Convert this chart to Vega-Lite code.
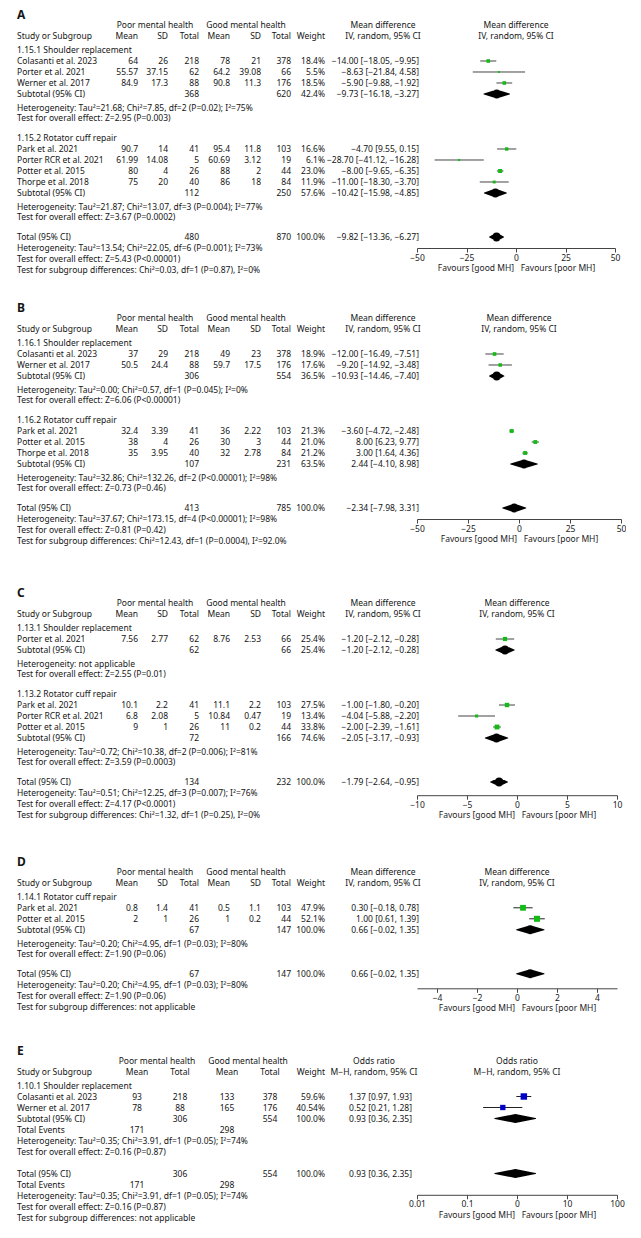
{
"$schema":"https://vega.github.io/schema/vega-lite/v6.json",
"padding":0,
"background":"white",
"columns":2,
"spacing":0,
"bounds":"flush",
"config":{
 "view":{"stroke":null},
 "text":{"font":"Noto Sans","fontSize":8.5,"color":"#151515"},
 "axis":{"labelFont":"Noto Sans","labelFontSize":8.5,"labelColor":"#222","titleFont":"Noto Sans","titleFontSize":8.5,"titleFontWeight":"normal","titleColor":"#222","domainColor":"#444","tickColor":"#444","tickSize":4,"labelPadding":1,"titlePadding":2,"grid":false,"labelFlush":false,"labelOverlap":false}
},
"datasets":{
"tA":[
{"line":-1,"col":0,"g":"p","text":"A"},
{"line":0,"col":9,"g":"h","text":"Poor mental health"},
{"line":0,"col":10,"g":"h","text":"Good mental health"},
{"line":0,"col":11,"g":"h","text":"Mean difference"},
{"line":1,"col":0,"g":"h","text":"Study or Subgroup"},
{"line":1,"col":1,"g":"h","text":"Mean"},
{"line":1,"col":2,"g":"h","text":"SD"},
{"line":1,"col":3,"g":"h","text":"Total"},
{"line":1,"col":4,"g":"h","text":"Mean"},
{"line":1,"col":5,"g":"h","text":"SD"},
{"line":1,"col":6,"g":"h","text":"Total"},
{"line":1,"col":7,"g":"h","text":"Weight"},
{"line":1,"col":11,"g":"h","text":"IV, random, 95% CI"},
{"line":2,"col":0,"g":"r","text":"1.15.1 Shoulder replacement"},
{"line":3,"col":0,"g":"r","text":"Colasanti et al. 2023"},
{"line":3,"col":1,"g":"r","text":"64"},
{"line":3,"col":2,"g":"r","text":"26"},
{"line":3,"col":3,"g":"r","text":"218"},
{"line":3,"col":4,"g":"r","text":"78"},
{"line":3,"col":5,"g":"r","text":"21"},
{"line":3,"col":6,"g":"r","text":"378"},
{"line":3,"col":7,"g":"r","text":"18.4%"},
{"line":3,"col":8,"g":"r","text":"−14.00 [−18.05, −9.95]"},
{"line":4,"col":0,"g":"r","text":"Porter et al. 2021"},
{"line":4,"col":1,"g":"r","text":"55.57"},
{"line":4,"col":2,"g":"r","text":"37.15"},
{"line":4,"col":3,"g":"r","text":"62"},
{"line":4,"col":4,"g":"r","text":"64.2"},
{"line":4,"col":5,"g":"r","text":"39.08"},
{"line":4,"col":6,"g":"r","text":"66"},
{"line":4,"col":7,"g":"r","text":"5.5%"},
{"line":4,"col":8,"g":"r","text":"−8.63 [−21.84, 4.58]"},
{"line":5,"col":0,"g":"r","text":"Werner et al. 2017"},
{"line":5,"col":1,"g":"r","text":"84.9"},
{"line":5,"col":2,"g":"r","text":"17.3"},
{"line":5,"col":3,"g":"r","text":"88"},
{"line":5,"col":4,"g":"r","text":"90.8"},
{"line":5,"col":5,"g":"r","text":"11.3"},
{"line":5,"col":6,"g":"r","text":"176"},
{"line":5,"col":7,"g":"r","text":"18.5%"},
{"line":5,"col":8,"g":"r","text":"−5.90 [−9.88, −1.92]"},
{"line":6,"col":0,"g":"r","text":"Subtotal (95% CI)"},
{"line":6,"col":3,"g":"r","text":"368"},
{"line":6,"col":6,"g":"r","text":"620"},
{"line":6,"col":7,"g":"r","text":"42.4%"},
{"line":6,"col":8,"g":"r","text":"−9.73 [−16.18, −3.27]"},
{"line":7,"col":0,"g":"n1","text":"Heterogeneity: Tau²=21.68; Chi²=7.85, df=2 (P=0.02); I²=75%"},
{"line":8,"col":0,"g":"n2","text":"Test for overall effect: Z=2.95 (P=0.003)"},
{"line":10,"col":0,"g":"r","text":"1.15.2 Rotator cuff repair"},
{"line":11,"col":0,"g":"r","text":"Park et al. 2021"},
{"line":11,"col":1,"g":"r","text":"90.7"},
{"line":11,"col":2,"g":"r","text":"14"},
{"line":11,"col":3,"g":"r","text":"41"},
{"line":11,"col":4,"g":"r","text":"95.4"},
{"line":11,"col":5,"g":"r","text":"11.8"},
{"line":11,"col":6,"g":"r","text":"103"},
{"line":11,"col":7,"g":"r","text":"16.6%"},
{"line":11,"col":8,"g":"r","text":"−4.70 [9.55, 0.15]"},
{"line":12,"col":0,"g":"r","text":"Porter RCR et al. 2021"},
{"line":12,"col":1,"g":"r","text":"61.99"},
{"line":12,"col":2,"g":"r","text":"14.08"},
{"line":12,"col":3,"g":"r","text":"5"},
{"line":12,"col":4,"g":"r","text":"60.69"},
{"line":12,"col":5,"g":"r","text":"3.12"},
{"line":12,"col":6,"g":"r","text":"19"},
{"line":12,"col":7,"g":"r","text":"6.1%"},
{"line":12,"col":8,"g":"r","text":"−28.70 [−41.12, −16.28]"},
{"line":13,"col":0,"g":"r","text":"Potter et al. 2015"},
{"line":13,"col":1,"g":"r","text":"80"},
{"line":13,"col":2,"g":"r","text":"4"},
{"line":13,"col":3,"g":"r","text":"26"},
{"line":13,"col":4,"g":"r","text":"88"},
{"line":13,"col":5,"g":"r","text":"2"},
{"line":13,"col":6,"g":"r","text":"44"},
{"line":13,"col":7,"g":"r","text":"23.0%"},
{"line":13,"col":8,"g":"r","text":"−8.00 [−9.65, −6.35]"},
{"line":14,"col":0,"g":"r","text":"Thorpe et al. 2018"},
{"line":14,"col":1,"g":"r","text":"75"},
{"line":14,"col":2,"g":"r","text":"20"},
{"line":14,"col":3,"g":"r","text":"40"},
{"line":14,"col":4,"g":"r","text":"86"},
{"line":14,"col":5,"g":"r","text":"18"},
{"line":14,"col":6,"g":"r","text":"84"},
{"line":14,"col":7,"g":"r","text":"11.9%"},
{"line":14,"col":8,"g":"r","text":"−11.00 [−18.30, −3.70]"},
{"line":15,"col":0,"g":"r","text":"Subtotal (95% CI)"},
{"line":15,"col":3,"g":"r","text":"112"},
{"line":15,"col":6,"g":"r","text":"250"},
{"line":15,"col":7,"g":"r","text":"57.6%"},
{"line":15,"col":8,"g":"r","text":"−10.42 [−15.98, −4.85]"},
{"line":16,"col":0,"g":"n1","text":"Heterogeneity: Tau²=21.87; Chi²=13.07, df=3 (P=0.004); I²=77%"},
{"line":17,"col":0,"g":"n2","text":"Test for overall effect: Z=3.67 (P=0.0002)"},
{"line":19,"col":0,"g":"r","text":"Total (95% CI)"},
{"line":19,"col":3,"g":"r","text":"480"},
{"line":19,"col":6,"g":"r","text":"870"},
{"line":19,"col":7,"g":"r","text":"100.0%"},
{"line":19,"col":8,"g":"r","text":"−9.82 [−13.36, −6.27]"},
{"line":20,"col":0,"g":"r","text":"Heterogeneity: Tau²=13.54; Chi²=22.05, df=6 (P=0.001); I²=73%"},
{"line":21,"col":0,"g":"r","text":"Test for overall effect: Z=5.43 (P<0.00001)"},
{"line":22,"col":0,"g":"r","text":"Test for subgroup differences: Chi²=0.03, df=1 (P=0.87), I²=0%"}
],
"fA":[
{"line":3,"kind":"s","md":-14.00,"lo":-18.05,"hi":-9.95,"weight":18.4},
{"line":4,"kind":"s","md":-8.63,"lo":-21.84,"hi":4.58,"weight":5.5},
{"line":5,"kind":"s","md":-5.90,"lo":-9.88,"hi":-1.92,"weight":18.5},
{"line":6,"kind":"d","md":-9.73,"lo":-16.18,"hi":-3.27},
{"line":11,"kind":"s","md":-4.70,"lo":-9.55,"hi":0.15,"weight":16.6},
{"line":12,"kind":"s","md":-28.70,"lo":-41.12,"hi":-16.28,"weight":6.1},
{"line":13,"kind":"s","md":-8.00,"lo":-9.65,"hi":-6.35,"weight":23.0},
{"line":14,"kind":"s","md":-11.00,"lo":-18.30,"hi":-3.70,"weight":11.9},
{"line":15,"kind":"d","md":-10.42,"lo":-15.98,"hi":-4.85},
{"line":19,"kind":"d","md":-9.82,"lo":-13.36,"hi":-6.27}
],
"tB":[
{"line":-1,"col":0,"g":"p","text":"B"},
{"line":0,"col":9,"g":"h","text":"Poor mental health"},
{"line":0,"col":10,"g":"h","text":"Good mental health"},
{"line":0,"col":11,"g":"h","text":"Mean difference"},
{"line":1,"col":0,"g":"h","text":"Study or Subgroup"},
{"line":1,"col":1,"g":"h","text":"Mean"},
{"line":1,"col":2,"g":"h","text":"SD"},
{"line":1,"col":3,"g":"h","text":"Total"},
{"line":1,"col":4,"g":"h","text":"Mean"},
{"line":1,"col":5,"g":"h","text":"SD"},
{"line":1,"col":6,"g":"h","text":"Total"},
{"line":1,"col":7,"g":"h","text":"Weight"},
{"line":1,"col":11,"g":"h","text":"IV, random, 95% CI"},
{"line":2,"col":0,"g":"r","text":"1.16.1 Shoulder replacement"},
{"line":3,"col":0,"g":"r","text":"Colasanti et al. 2023"},
{"line":3,"col":1,"g":"r","text":"37"},
{"line":3,"col":2,"g":"r","text":"29"},
{"line":3,"col":3,"g":"r","text":"218"},
{"line":3,"col":4,"g":"r","text":"49"},
{"line":3,"col":5,"g":"r","text":"23"},
{"line":3,"col":6,"g":"r","text":"378"},
{"line":3,"col":7,"g":"r","text":"18.9%"},
{"line":3,"col":8,"g":"r","text":"−12.00 [−16.49, −7.51]"},
{"line":4,"col":0,"g":"r","text":"Werner et al. 2017"},
{"line":4,"col":1,"g":"r","text":"50.5"},
{"line":4,"col":2,"g":"r","text":"24.4"},
{"line":4,"col":3,"g":"r","text":"88"},
{"line":4,"col":4,"g":"r","text":"59.7"},
{"line":4,"col":5,"g":"r","text":"17.5"},
{"line":4,"col":6,"g":"r","text":"176"},
{"line":4,"col":7,"g":"r","text":"17.6%"},
{"line":4,"col":8,"g":"r","text":"−9.20 [−14.92, −3.48]"},
{"line":5,"col":0,"g":"r","text":"Subtotal (95% CI)"},
{"line":5,"col":3,"g":"r","text":"306"},
{"line":5,"col":6,"g":"r","text":"554"},
{"line":5,"col":7,"g":"r","text":"36.5%"},
{"line":5,"col":8,"g":"r","text":"−10.93 [−14.46, −7.40]"},
{"line":6,"col":0,"g":"n1","text":"Heterogeneity: Tau²=0.00; Chi²=0.57, df=1 (P=0.045); I²=0%"},
{"line":7,"col":0,"g":"n2","text":"Test for overall effect: Z=6.06 (P<0.00001)"},
{"line":9,"col":0,"g":"r","text":"1.16.2 Rotator cuff repair"},
{"line":10,"col":0,"g":"r","text":"Park et al. 2021"},
{"line":10,"col":1,"g":"r","text":"32.4"},
{"line":10,"col":2,"g":"r","text":"3.39"},
{"line":10,"col":3,"g":"r","text":"41"},
{"line":10,"col":4,"g":"r","text":"36"},
{"line":10,"col":5,"g":"r","text":"2.22"},
{"line":10,"col":6,"g":"r","text":"103"},
{"line":10,"col":7,"g":"r","text":"21.3%"},
{"line":10,"col":8,"g":"r","text":"−3.60 [−4.72, −2.48]"},
{"line":11,"col":0,"g":"r","text":"Potter et al. 2015"},
{"line":11,"col":1,"g":"r","text":"38"},
{"line":11,"col":2,"g":"r","text":"4"},
{"line":11,"col":3,"g":"r","text":"26"},
{"line":11,"col":4,"g":"r","text":"30"},
{"line":11,"col":5,"g":"r","text":"3"},
{"line":11,"col":6,"g":"r","text":"44"},
{"line":11,"col":7,"g":"r","text":"21.0%"},
{"line":11,"col":8,"g":"r","text":"8.00 [6.23, 9.77]"},
{"line":12,"col":0,"g":"r","text":"Thorpe et al. 2018"},
{"line":12,"col":1,"g":"r","text":"35"},
{"line":12,"col":2,"g":"r","text":"3.95"},
{"line":12,"col":3,"g":"r","text":"40"},
{"line":12,"col":4,"g":"r","text":"32"},
{"line":12,"col":5,"g":"r","text":"2.78"},
{"line":12,"col":6,"g":"r","text":"84"},
{"line":12,"col":7,"g":"r","text":"21.2%"},
{"line":12,"col":8,"g":"r","text":"3.00 [1.64, 4.36]"},
{"line":13,"col":0,"g":"r","text":"Subtotal (95% CI)"},
{"line":13,"col":3,"g":"r","text":"107"},
{"line":13,"col":6,"g":"r","text":"231"},
{"line":13,"col":7,"g":"r","text":"63.5%"},
{"line":13,"col":8,"g":"r","text":"2.44 [−4.10, 8.98]"},
{"line":14,"col":0,"g":"n1","text":"Heterogeneity: Tau²=32.86; Chi²=132.26, df=2 (P<0.00001); I²=98%"},
{"line":15,"col":0,"g":"n2","text":"Test for overall effect: Z=0.73 (P=0.46)"},
{"line":17,"col":0,"g":"r","text":"Total (95% CI)"},
{"line":17,"col":3,"g":"r","text":"413"},
{"line":17,"col":6,"g":"r","text":"785"},
{"line":17,"col":7,"g":"r","text":"100.0%"},
{"line":17,"col":8,"g":"r","text":"−2.34 [−7.98, 3.31]"},
{"line":18,"col":0,"g":"r","text":"Heterogeneity: Tau²=37.67; Chi²=173.15, df=4 (P<0.00001); I²=98%"},
{"line":19,"col":0,"g":"r","text":"Test for overall effect: Z=0.81 (P=0.42)"},
{"line":20,"col":0,"g":"r","text":"Test for subgroup differences: Chi²=12.43, df=1 (P=0.0004), I²=92.0%"}
],
"fB":[
{"line":3,"kind":"s","md":-12.00,"lo":-16.49,"hi":-7.51,"weight":18.9},
{"line":4,"kind":"s","md":-9.20,"lo":-14.92,"hi":-3.48,"weight":17.6},
{"line":5,"kind":"d","md":-10.93,"lo":-14.46,"hi":-7.40},
{"line":10,"kind":"s","md":-3.60,"lo":-4.72,"hi":-2.48,"weight":21.3},
{"line":11,"kind":"s","md":8.00,"lo":6.23,"hi":9.77,"weight":21.0},
{"line":12,"kind":"s","md":3.00,"lo":1.64,"hi":4.36,"weight":21.2},
{"line":13,"kind":"d","md":2.44,"lo":-4.10,"hi":8.98},
{"line":17,"kind":"d","md":-2.34,"lo":-7.98,"hi":3.31}
],
"tC":[
{"line":-1,"col":0,"g":"p","text":"C"},
{"line":0,"col":9,"g":"h","text":"Poor mental health"},
{"line":0,"col":10,"g":"h","text":"Good mental health"},
{"line":0,"col":11,"g":"h","text":"Mean difference"},
{"line":1,"col":0,"g":"h","text":"Study or Subgroup"},
{"line":1,"col":1,"g":"h","text":"Mean"},
{"line":1,"col":2,"g":"h","text":"SD"},
{"line":1,"col":3,"g":"h","text":"Total"},
{"line":1,"col":4,"g":"h","text":"Mean"},
{"line":1,"col":5,"g":"h","text":"SD"},
{"line":1,"col":6,"g":"h","text":"Total"},
{"line":1,"col":7,"g":"h","text":"Weight"},
{"line":1,"col":11,"g":"h","text":"IV, random, 95% CI"},
{"line":2,"col":0,"g":"r","text":"1.13.1 Shoulder replacement"},
{"line":3,"col":0,"g":"r","text":"Porter et al. 2021"},
{"line":3,"col":1,"g":"r","text":"7.56"},
{"line":3,"col":2,"g":"r","text":"2.77"},
{"line":3,"col":3,"g":"r","text":"62"},
{"line":3,"col":4,"g":"r","text":"8.76"},
{"line":3,"col":5,"g":"r","text":"2.53"},
{"line":3,"col":6,"g":"r","text":"66"},
{"line":3,"col":7,"g":"r","text":"25.4%"},
{"line":3,"col":8,"g":"r","text":"−1.20 [−2.12, −0.28]"},
{"line":4,"col":0,"g":"r","text":"Subtotal (95% CI)"},
{"line":4,"col":3,"g":"r","text":"62"},
{"line":4,"col":6,"g":"r","text":"66"},
{"line":4,"col":7,"g":"r","text":"25.4%"},
{"line":4,"col":8,"g":"r","text":"−1.20 [−2.12, −0.28]"},
{"line":5,"col":0,"g":"n1","text":"Heterogeneity: not applicable"},
{"line":6,"col":0,"g":"n2","text":"Test for overall effect: Z=2.55 (P=0.01)"},
{"line":8,"col":0,"g":"r","text":"1.13.2 Rotator cuff repair"},
{"line":9,"col":0,"g":"r","text":"Park et al. 2021"},
{"line":9,"col":1,"g":"r","text":"10.1"},
{"line":9,"col":2,"g":"r","text":"2.2"},
{"line":9,"col":3,"g":"r","text":"41"},
{"line":9,"col":4,"g":"r","text":"11.1"},
{"line":9,"col":5,"g":"r","text":"2.2"},
{"line":9,"col":6,"g":"r","text":"103"},
{"line":9,"col":7,"g":"r","text":"27.5%"},
{"line":9,"col":8,"g":"r","text":"−1.00 [−1.80, −0.20]"},
{"line":10,"col":0,"g":"r","text":"Porter RCR et al. 2021"},
{"line":10,"col":1,"g":"r","text":"6.8"},
{"line":10,"col":2,"g":"r","text":"2.08"},
{"line":10,"col":3,"g":"r","text":"5"},
{"line":10,"col":4,"g":"r","text":"10.84"},
{"line":10,"col":5,"g":"r","text":"0.47"},
{"line":10,"col":6,"g":"r","text":"19"},
{"line":10,"col":7,"g":"r","text":"13.4%"},
{"line":10,"col":8,"g":"r","text":"−4.04 [−5.88, −2.20]"},
{"line":11,"col":0,"g":"r","text":"Potter et al. 2015"},
{"line":11,"col":1,"g":"r","text":"9"},
{"line":11,"col":2,"g":"r","text":"1"},
{"line":11,"col":3,"g":"r","text":"26"},
{"line":11,"col":4,"g":"r","text":"11"},
{"line":11,"col":5,"g":"r","text":"0.2"},
{"line":11,"col":6,"g":"r","text":"44"},
{"line":11,"col":7,"g":"r","text":"33.8%"},
{"line":11,"col":8,"g":"r","text":"−2.00 [−2.39, −1.61]"},
{"line":12,"col":0,"g":"r","text":"Subtotal (95% CI)"},
{"line":12,"col":3,"g":"r","text":"72"},
{"line":12,"col":6,"g":"r","text":"166"},
{"line":12,"col":7,"g":"r","text":"74.6%"},
{"line":12,"col":8,"g":"r","text":"−2.05 [−3.17, −0.93]"},
{"line":13,"col":0,"g":"n1","text":"Heterogeneity: Tau²=0.72; Chi²=10.38, df=2 (P=0.006); I²=81%"},
{"line":14,"col":0,"g":"n2","text":"Test for overall effect: Z=3.59 (P=0.0003)"},
{"line":16,"col":0,"g":"r","text":"Total (95% CI)"},
{"line":16,"col":3,"g":"r","text":"134"},
{"line":16,"col":6,"g":"r","text":"232"},
{"line":16,"col":7,"g":"r","text":"100.0%"},
{"line":16,"col":8,"g":"r","text":"−1.79 [−2.64, −0.95]"},
{"line":17,"col":0,"g":"r","text":"Heterogeneity: Tau²=0.51; Chi²=12.25, df=3 (P=0.007); I²=76%"},
{"line":18,"col":0,"g":"r","text":"Test for overall effect: Z=4.17 (P<0.0001)"},
{"line":19,"col":0,"g":"r","text":"Test for subgroup differences: Chi²=1.32, df=1 (P=0.25), I²=0%"}
],
"fC":[
{"line":3,"kind":"s","md":-1.20,"lo":-2.12,"hi":-0.28,"weight":25.4},
{"line":4,"kind":"d","md":-1.20,"lo":-2.12,"hi":-0.28},
{"line":9,"kind":"s","md":-1.00,"lo":-1.80,"hi":-0.20,"weight":27.5},
{"line":10,"kind":"s","md":-4.04,"lo":-5.88,"hi":-2.20,"weight":13.4},
{"line":11,"kind":"s","md":-2.00,"lo":-2.39,"hi":-1.61,"weight":33.8},
{"line":12,"kind":"d","md":-2.05,"lo":-3.17,"hi":-0.93},
{"line":16,"kind":"d","md":-1.79,"lo":-2.64,"hi":-0.95}
],
"tD":[
{"line":-1,"col":0,"g":"p","text":"D"},
{"line":0,"col":9,"g":"h","text":"Poor mental health"},
{"line":0,"col":10,"g":"h","text":"Good mental health"},
{"line":0,"col":11,"g":"h","text":"Mean difference"},
{"line":1,"col":0,"g":"h","text":"Study or Subgroup"},
{"line":1,"col":1,"g":"h","text":"Mean"},
{"line":1,"col":2,"g":"h","text":"SD"},
{"line":1,"col":3,"g":"h","text":"Total"},
{"line":1,"col":4,"g":"h","text":"Mean"},
{"line":1,"col":5,"g":"h","text":"SD"},
{"line":1,"col":6,"g":"h","text":"Total"},
{"line":1,"col":7,"g":"h","text":"Weight"},
{"line":1,"col":11,"g":"h","text":"IV, random, 95% CI"},
{"line":2,"col":0,"g":"r","text":"1.14.1 Rotator cuff repair"},
{"line":3,"col":0,"g":"r","text":"Park et al. 2021"},
{"line":3,"col":1,"g":"r","text":"0.8"},
{"line":3,"col":2,"g":"r","text":"1.4"},
{"line":3,"col":3,"g":"r","text":"41"},
{"line":3,"col":4,"g":"r","text":"0.5"},
{"line":3,"col":5,"g":"r","text":"1.1"},
{"line":3,"col":6,"g":"r","text":"103"},
{"line":3,"col":7,"g":"r","text":"47.9%"},
{"line":3,"col":8,"g":"r","text":"0.30 [−0.18, 0.78]"},
{"line":4,"col":0,"g":"r","text":"Potter et al. 2015"},
{"line":4,"col":1,"g":"r","text":"2"},
{"line":4,"col":2,"g":"r","text":"1"},
{"line":4,"col":3,"g":"r","text":"26"},
{"line":4,"col":4,"g":"r","text":"1"},
{"line":4,"col":5,"g":"r","text":"0.2"},
{"line":4,"col":6,"g":"r","text":"44"},
{"line":4,"col":7,"g":"r","text":"52.1%"},
{"line":4,"col":8,"g":"r","text":"1.00 [0.61, 1.39]"},
{"line":5,"col":0,"g":"r","text":"Subtotal (95% CI)"},
{"line":5,"col":3,"g":"r","text":"67"},
{"line":5,"col":6,"g":"r","text":"147"},
{"line":5,"col":7,"g":"r","text":"100.0%"},
{"line":5,"col":8,"g":"r","text":"0.66 [−0.02, 1.35]"},
{"line":6,"col":0,"g":"n1","text":"Heterogeneity: Tau²=0.20; Chi²=4.95, df=1 (P=0.03); I²=80%"},
{"line":7,"col":0,"g":"n2","text":"Test for overall effect: Z=1.90 (P=0.06)"},
{"line":9,"col":0,"g":"r","text":"Total (95% CI)"},
{"line":9,"col":3,"g":"r","text":"67"},
{"line":9,"col":6,"g":"r","text":"147"},
{"line":9,"col":7,"g":"r","text":"100.0%"},
{"line":9,"col":8,"g":"r","text":"0.66 [−0.02, 1.35]"},
{"line":10,"col":0,"g":"r","text":"Heterogeneity: Tau²=0.20; Chi²=4.95, df=1 (P=0.03); I²=80%"},
{"line":11,"col":0,"g":"r","text":"Test for overall effect: Z=1.90 (P=0.06)"},
{"line":12,"col":0,"g":"r","text":"Test for subgroup differences: not applicable"}
],
"fD":[
{"line":3,"kind":"s","md":0.30,"lo":-0.18,"hi":0.78,"weight":47.9},
{"line":4,"kind":"s","md":1.00,"lo":0.61,"hi":1.39,"weight":52.1},
{"line":5,"kind":"d","md":0.66,"lo":-0.02,"hi":1.35},
{"line":9,"kind":"d","md":0.66,"lo":-0.02,"hi":1.35}
],
"tE":[
{"line":-1,"col":0,"g":"p","text":"E"},
{"line":0,"col":9,"g":"h","text":"Poor mental health"},
{"line":0,"col":10,"g":"h","text":"Good mental health"},
{"line":0,"col":11,"g":"h","text":"Odds ratio"},
{"line":1,"col":0,"g":"h","text":"Study or Subgroup"},
{"line":1,"col":1,"g":"h","text":"Mean"},
{"line":1,"col":2,"g":"h","text":"Total"},
{"line":1,"col":3,"g":"h","text":"Mean"},
{"line":1,"col":4,"g":"h","text":"Total"},
{"line":1,"col":5,"g":"h","text":"Weight"},
{"line":1,"col":11,"g":"h","text":"M−H, random, 95% CI"},
{"line":2,"col":0,"g":"r","text":"1.10.1 Shoulder replacement"},
{"line":3,"col":0,"g":"r","text":"Colasanti et al. 2023"},
{"line":3,"col":1,"g":"r","text":"93"},
{"line":3,"col":2,"g":"r","text":"218"},
{"line":3,"col":3,"g":"r","text":"133"},
{"line":3,"col":4,"g":"r","text":"378"},
{"line":3,"col":5,"g":"r","text":"59.6%"},
{"line":3,"col":6,"g":"r","text":"1.37 [0.97, 1.93]"},
{"line":4,"col":0,"g":"r","text":"Werner et al. 2017"},
{"line":4,"col":1,"g":"r","text":"78"},
{"line":4,"col":2,"g":"r","text":"88"},
{"line":4,"col":3,"g":"r","text":"165"},
{"line":4,"col":4,"g":"r","text":"176"},
{"line":4,"col":5,"g":"r","text":"40.54%"},
{"line":4,"col":6,"g":"r","text":"0.52 [0.21, 1.28]"},
{"line":5,"col":0,"g":"r","text":"Subtotal (95% CI)"},
{"line":5,"col":2,"g":"r","text":"306"},
{"line":5,"col":4,"g":"r","text":"554"},
{"line":5,"col":5,"g":"r","text":"100.0%"},
{"line":5,"col":6,"g":"r","text":"0.93 [0.36, 2.35]"},
{"line":6,"col":0,"g":"r","text":"Total Events"},
{"line":6,"col":1,"g":"r","text":"171"},
{"line":6,"col":3,"g":"r","text":"298"},
{"line":7,"col":0,"g":"r","text":"Heterogeneity: Tau²=0.35; Chi²=3.91, df=1 (P=0.05); I²=74%"},
{"line":8,"col":0,"g":"r","text":"Test for overall effect: Z=0.16 (P=0.87)"},
{"line":10,"col":0,"g":"r","text":"Total (95% CI)"},
{"line":10,"col":2,"g":"r","text":"306"},
{"line":10,"col":4,"g":"r","text":"554"},
{"line":10,"col":5,"g":"r","text":"100.0%"},
{"line":10,"col":6,"g":"r","text":"0.93 [0.36, 2.35]"},
{"line":11,"col":0,"g":"r","text":"Total Events"},
{"line":11,"col":1,"g":"r","text":"171"},
{"line":11,"col":3,"g":"r","text":"298"},
{"line":12,"col":0,"g":"r","text":"Heterogeneity: Tau²=0.35; Chi²=3.91, df=1 (P=0.05); I²=74%"},
{"line":13,"col":0,"g":"r","text":"Test for overall effect: Z=0.16 (P=0.87)"},
{"line":14,"col":0,"g":"r","text":"Test for subgroup differences: not applicable"}
],
"fE":[
{"line":3,"kind":"s","md":1.37,"lo":0.97,"hi":1.93,"weight":59.6},
{"line":4,"kind":"s","md":0.52,"lo":0.21,"hi":1.28,"weight":40.54},
{"line":5,"kind":"d","md":0.93,"lo":0.36,"hi":2.35},
{"line":10,"kind":"d","md":0.93,"lo":0.36,"hi":2.35}
]
},
"concat":[
 {"width":417,"height":248,"data":{"name":"tA"},
  "encoding":{
   "x":{"field":"col","type":"quantitative","scale":{"domain":[0,1,2,3,4,5,6,7,8,9,10,11,12,13],"range":[17,138,168,199,230,261,291,325,419,155,246,383,17,417],"nice":false,"zero":false},"axis":null},
   "y":{"field":"line","type":"quantitative","scale":{"domain":[-2.54545,20],"reverse":true,"nice":false,"zero":false},"axis":null},
   "text":{"field":"text","type":"nominal"}},
  "layer":[
   {"transform":[{"filter":"datum.col == 0 && datum.g == 'r'"}],"mark":{"type":"text","align":"left","baseline":"middle"}},
   {"transform":[{"filter":"datum.col == 0 && datum.g == 'n1'"}],"mark":{"type":"text","align":"left","baseline":"middle","dy":3}},
   {"transform":[{"filter":"datum.col == 0 && datum.g == 'n2'"}],"mark":{"type":"text","align":"left","baseline":"middle","dy":2}},
   {"transform":[{"filter":"datum.col == 0 && datum.g == 'h'"}],"mark":{"type":"text","align":"left","baseline":"middle","dy":-3}},
   {"transform":[{"filter":"datum.col >= 1 && datum.col <= 8 && datum.g == 'r'"}],"mark":{"type":"text","align":"right","baseline":"middle"}},
   {"transform":[{"filter":"datum.col >= 1 && datum.col <= 8 && datum.g == 'h'"}],"mark":{"type":"text","align":"right","baseline":"middle","dy":-3}},
   {"transform":[{"filter":"datum.col >= 9 && datum.col <= 11"}],"mark":{"type":"text","align":"center","baseline":"middle","dy":-3}},
   {"transform":[{"filter":"datum.g == 'p'"}],"mark":{"type":"text","align":"left","baseline":"middle","dy":-2,"fontSize":12,"fontWeight":"bold"}},
   {"data":{"values":[{}]},"mark":{"type":"rule","color":"#8c8c8c"},"encoding":{"x":{"datum":0},"x2":{"datum":13},"y":{"datum":1.45}}}
  ]},
 {"width":198,"height":248,"data":{"name":"fA"},
  "encoding":{"y":{"field":"line","type":"quantitative","scale":{"domain":[-2.54545,20],"reverse":true,"nice":false,"zero":false},"axis":null}},
  "layer":[
   {"data":{"values":[{"line":0,"text":"Mean difference"},{"line":1,"text":"IV, random, 95% CI"}]},"mark":{"type":"text","baseline":"middle","dy":-3},"encoding":{"x":{"datum":0,"type":"quantitative","scale":{"domain":[-50,50],"nice":false,"zero":false},"axis":{"values":[-50,-25,0,25,50],"title":"Favours [good MH]\u00a0\u00a0\u00a0Favours [poor MH]"}},"text":{"field":"text","type":"nominal"}}},
   {"data":{"values":[{}]},"mark":{"type":"rule","color":"#8c8c8c"},"encoding":{"y":{"datum":1.45}}},
   {"data":{"values":[{}]},"mark":{"type":"rule","color":"#8c8c8c","strokeWidth":1.2},"encoding":{"x":{"datum":0,"type":"quantitative","scale":{"domain":[-50,50],"nice":false,"zero":false},"axis":{"values":[-50,-25,0,25,50],"title":"Favours [good MH]\u00a0\u00a0\u00a0Favours [poor MH]"}},"y":{"datum":1.45},"y2":{"datum":20}}},
   {"transform":[{"filter":"datum.kind == 's'"}],"mark":{"type":"rule","color":"#444"},"encoding":{"x":{"field":"lo","type":"quantitative","scale":{"domain":[-50,50],"nice":false,"zero":false},"axis":{"values":[-50,-25,0,25,50],"title":"Favours [good MH]\u00a0\u00a0\u00a0Favours [poor MH]"}},"x2":{"field":"hi"}}},
   {"transform":[{"filter":"datum.kind == 's'"}],"mark":{"type":"point","shape":"square","filled":true,"opacity":1,"color":"#14bb14"},"encoding":{"x":{"field":"md","type":"quantitative","scale":{"domain":[-50,50],"nice":false,"zero":false},"axis":{"values":[-50,-25,0,25,50],"title":"Favours [good MH]\u00a0\u00a0\u00a0Favours [poor MH]"}},"size":{"field":"weight","type":"quantitative","scale":{"domain":[0,100],"range":[0,70]},"legend":null}}},
   {"transform":[{"filter":"datum.kind == 'd'"},{"fold":["lo","md","hi"],"as":["key","xv"]}],"mark":{"type":"trail","color":"#000"},"encoding":{"x":{"field":"xv","type":"quantitative","scale":{"domain":[-50,50],"nice":false,"zero":false},"axis":{"values":[-50,-25,0,25,50],"title":"Favours [good MH]\u00a0\u00a0\u00a0Favours [poor MH]"}},"order":{"field":"xv","type":"quantitative"},"detail":{"field":"line","type":"nominal"},"size":{"condition":{"test":"datum.key == 'md'","value":9},"value":0}}}
  ]},
 {"width":417,"height":271,"data":{"name":"tB"},
  "encoding":{
   "x":{"field":"col","type":"quantitative","scale":{"domain":[0,1,2,3,4,5,6,7,8,9,10,11,12,13],"range":[17,138,168,199,230,261,291,325,419,155,246,383,17,417],"nice":false,"zero":false},"axis":null},
   "y":{"field":"line","type":"quantitative","scale":{"domain":[-6.63636,18],"reverse":true,"nice":false,"zero":false},"axis":null},
   "text":{"field":"text","type":"nominal"}},
  "layer":[
   {"transform":[{"filter":"datum.col == 0 && datum.g == 'r'"}],"mark":{"type":"text","align":"left","baseline":"middle"}},
   {"transform":[{"filter":"datum.col == 0 && datum.g == 'n1'"}],"mark":{"type":"text","align":"left","baseline":"middle","dy":3}},
   {"transform":[{"filter":"datum.col == 0 && datum.g == 'n2'"}],"mark":{"type":"text","align":"left","baseline":"middle","dy":2}},
   {"transform":[{"filter":"datum.col == 0 && datum.g == 'h'"}],"mark":{"type":"text","align":"left","baseline":"middle","dy":-3}},
   {"transform":[{"filter":"datum.col >= 1 && datum.col <= 8 && datum.g == 'r'"}],"mark":{"type":"text","align":"right","baseline":"middle"}},
   {"transform":[{"filter":"datum.col >= 1 && datum.col <= 8 && datum.g == 'h'"}],"mark":{"type":"text","align":"right","baseline":"middle","dy":-3}},
   {"transform":[{"filter":"datum.col >= 9 && datum.col <= 11"}],"mark":{"type":"text","align":"center","baseline":"middle","dy":-3}},
   {"transform":[{"filter":"datum.g == 'p'"}],"mark":{"type":"text","align":"left","baseline":"middle","dy":-2,"fontSize":12,"fontWeight":"bold"}},
   {"data":{"values":[{}]},"mark":{"type":"rule","color":"#8c8c8c"},"encoding":{"x":{"datum":0},"x2":{"datum":13},"y":{"datum":1.45}}}
  ]},
 {"width":204,"height":271,"data":{"name":"fB"},
  "encoding":{"y":{"field":"line","type":"quantitative","scale":{"domain":[-6.63636,18],"reverse":true,"nice":false,"zero":false},"axis":null}},
  "layer":[
   {"data":{"values":[{"line":0,"text":"Mean difference"},{"line":1,"text":"IV, random, 95% CI"}]},"mark":{"type":"text","baseline":"middle","dy":-3},"encoding":{"x":{"datum":0,"type":"quantitative","scale":{"domain":[-50,50],"nice":false,"zero":false},"axis":{"values":[-50,-25,0,25,50],"title":"Favours [good MH]\u00a0\u00a0\u00a0Favours [poor MH]"}},"text":{"field":"text","type":"nominal"}}},
   {"data":{"values":[{}]},"mark":{"type":"rule","color":"#8c8c8c"},"encoding":{"y":{"datum":1.45}}},
   {"data":{"values":[{}]},"mark":{"type":"rule","color":"#8c8c8c","strokeWidth":1.2},"encoding":{"x":{"datum":0,"type":"quantitative","scale":{"domain":[-50,50],"nice":false,"zero":false},"axis":{"values":[-50,-25,0,25,50],"title":"Favours [good MH]\u00a0\u00a0\u00a0Favours [poor MH]"}},"y":{"datum":1.45},"y2":{"datum":18}}},
   {"transform":[{"filter":"datum.kind == 's'"}],"mark":{"type":"rule","color":"#444"},"encoding":{"x":{"field":"lo","type":"quantitative","scale":{"domain":[-50,50],"nice":false,"zero":false},"axis":{"values":[-50,-25,0,25,50],"title":"Favours [good MH]\u00a0\u00a0\u00a0Favours [poor MH]"}},"x2":{"field":"hi"}}},
   {"transform":[{"filter":"datum.kind == 's'"}],"mark":{"type":"point","shape":"square","filled":true,"opacity":1,"color":"#14bb14"},"encoding":{"x":{"field":"md","type":"quantitative","scale":{"domain":[-50,50],"nice":false,"zero":false},"axis":{"values":[-50,-25,0,25,50],"title":"Favours [good MH]\u00a0\u00a0\u00a0Favours [poor MH]"}},"size":{"field":"weight","type":"quantitative","scale":{"domain":[0,100],"range":[0,70]},"legend":null}}},
   {"transform":[{"filter":"datum.kind == 'd'"},{"fold":["lo","md","hi"],"as":["key","xv"]}],"mark":{"type":"trail","color":"#000"},"encoding":{"x":{"field":"xv","type":"quantitative","scale":{"domain":[-50,50],"nice":false,"zero":false},"axis":{"values":[-50,-25,0,25,50],"title":"Favours [good MH]\u00a0\u00a0\u00a0Favours [poor MH]"}},"order":{"field":"xv","type":"quantitative"},"detail":{"field":"line","type":"nominal"},"size":{"condition":{"test":"datum.key == 'md'","value":9},"value":0}}}
  ]},
 {"width":417,"height":276.2,"data":{"name":"tC"},
  "encoding":{
   "x":{"field":"col","type":"quantitative","scale":{"domain":[0,1,2,3,4,5,6,7,8,9,10,11,12,13],"range":[17,138,168,199,230,261,291,325,419,155,246,383,17,417],"nice":false,"zero":false},"axis":null},
   "y":{"field":"line","type":"quantitative","scale":{"domain":[-7.90909,17.2],"reverse":true,"nice":false,"zero":false},"axis":null},
   "text":{"field":"text","type":"nominal"}},
  "layer":[
   {"transform":[{"filter":"datum.col == 0 && datum.g == 'r'"}],"mark":{"type":"text","align":"left","baseline":"middle"}},
   {"transform":[{"filter":"datum.col == 0 && datum.g == 'n1'"}],"mark":{"type":"text","align":"left","baseline":"middle","dy":3}},
   {"transform":[{"filter":"datum.col == 0 && datum.g == 'n2'"}],"mark":{"type":"text","align":"left","baseline":"middle","dy":2}},
   {"transform":[{"filter":"datum.col == 0 && datum.g == 'h'"}],"mark":{"type":"text","align":"left","baseline":"middle","dy":-3}},
   {"transform":[{"filter":"datum.col >= 1 && datum.col <= 8 && datum.g == 'r'"}],"mark":{"type":"text","align":"right","baseline":"middle"}},
   {"transform":[{"filter":"datum.col >= 1 && datum.col <= 8 && datum.g == 'h'"}],"mark":{"type":"text","align":"right","baseline":"middle","dy":-3}},
   {"transform":[{"filter":"datum.col >= 9 && datum.col <= 11"}],"mark":{"type":"text","align":"center","baseline":"middle","dy":-3}},
   {"transform":[{"filter":"datum.g == 'p'"}],"mark":{"type":"text","align":"left","baseline":"middle","dy":-2,"fontSize":12,"fontWeight":"bold"}},
   {"data":{"values":[{}]},"mark":{"type":"rule","color":"#8c8c8c"},"encoding":{"x":{"datum":0},"x2":{"datum":13},"y":{"datum":1.45}}}
  ]},
 {"width":200,"height":276.2,"data":{"name":"fC"},
  "encoding":{"y":{"field":"line","type":"quantitative","scale":{"domain":[-7.90909,17.2],"reverse":true,"nice":false,"zero":false},"axis":null}},
  "layer":[
   {"data":{"values":[{"line":0,"text":"Mean difference"},{"line":1,"text":"IV, random, 95% CI"}]},"mark":{"type":"text","baseline":"middle","dy":-3},"encoding":{"x":{"datum":0,"type":"quantitative","scale":{"domain":[-10,10],"nice":false,"zero":false},"axis":{"values":[-10,-5,0,5,10],"title":"Favours [good MH]\u00a0\u00a0\u00a0Favours [poor MH]"}},"text":{"field":"text","type":"nominal"}}},
   {"data":{"values":[{}]},"mark":{"type":"rule","color":"#8c8c8c"},"encoding":{"y":{"datum":1.45}}},
   {"data":{"values":[{}]},"mark":{"type":"rule","color":"#8c8c8c","strokeWidth":1.2},"encoding":{"x":{"datum":0,"type":"quantitative","scale":{"domain":[-10,10],"nice":false,"zero":false},"axis":{"values":[-10,-5,0,5,10],"title":"Favours [good MH]\u00a0\u00a0\u00a0Favours [poor MH]"}},"y":{"datum":1.45},"y2":{"datum":17.2}}},
   {"transform":[{"filter":"datum.kind == 's'"}],"mark":{"type":"rule","color":"#444"},"encoding":{"x":{"field":"lo","type":"quantitative","scale":{"domain":[-10,10],"nice":false,"zero":false},"axis":{"values":[-10,-5,0,5,10],"title":"Favours [good MH]\u00a0\u00a0\u00a0Favours [poor MH]"}},"x2":{"field":"hi"}}},
   {"transform":[{"filter":"datum.kind == 's'"}],"mark":{"type":"point","shape":"square","filled":true,"opacity":1,"color":"#14bb14"},"encoding":{"x":{"field":"md","type":"quantitative","scale":{"domain":[-10,10],"nice":false,"zero":false},"axis":{"values":[-10,-5,0,5,10],"title":"Favours [good MH]\u00a0\u00a0\u00a0Favours [poor MH]"}},"size":{"field":"weight","type":"quantitative","scale":{"domain":[0,100],"range":[0,70]},"legend":null}}},
   {"transform":[{"filter":"datum.kind == 'd'"},{"fold":["lo","md","hi"],"as":["key","xv"]}],"mark":{"type":"trail","color":"#000"},"encoding":{"x":{"field":"xv","type":"quantitative","scale":{"domain":[-10,10],"nice":false,"zero":false},"axis":{"values":[-10,-5,0,5,10],"title":"Favours [good MH]\u00a0\u00a0\u00a0Favours [poor MH]"}},"order":{"field":"xv","type":"quantitative"},"detail":{"field":"line","type":"nominal"},"size":{"condition":{"test":"datum.key == 'md'","value":9},"value":0}}}
  ]},
 {"width":417,"height":192.3,"data":{"name":"tD"},
  "encoding":{
   "x":{"field":"col","type":"quantitative","scale":{"domain":[0,1,2,3,4,5,6,7,8,9,10,11,12,13],"range":[17,138,168,199,230,261,291,325,419,155,246,383,17,417],"nice":false,"zero":false},"axis":null},
   "y":{"field":"line","type":"quantitative","scale":{"domain":[-7.16364,10.31818],"reverse":true,"nice":false,"zero":false},"axis":null},
   "text":{"field":"text","type":"nominal"}},
  "layer":[
   {"transform":[{"filter":"datum.col == 0 && datum.g == 'r'"}],"mark":{"type":"text","align":"left","baseline":"middle"}},
   {"transform":[{"filter":"datum.col == 0 && datum.g == 'n1'"}],"mark":{"type":"text","align":"left","baseline":"middle","dy":3}},
   {"transform":[{"filter":"datum.col == 0 && datum.g == 'n2'"}],"mark":{"type":"text","align":"left","baseline":"middle","dy":2}},
   {"transform":[{"filter":"datum.col == 0 && datum.g == 'h'"}],"mark":{"type":"text","align":"left","baseline":"middle","dy":-3}},
   {"transform":[{"filter":"datum.col >= 1 && datum.col <= 8 && datum.g == 'r'"}],"mark":{"type":"text","align":"right","baseline":"middle"}},
   {"transform":[{"filter":"datum.col >= 1 && datum.col <= 8 && datum.g == 'h'"}],"mark":{"type":"text","align":"right","baseline":"middle","dy":-3}},
   {"transform":[{"filter":"datum.col >= 9 && datum.col <= 11"}],"mark":{"type":"text","align":"center","baseline":"middle","dy":-3}},
   {"transform":[{"filter":"datum.g == 'p'"}],"mark":{"type":"text","align":"left","baseline":"middle","dy":-2,"fontSize":12,"fontWeight":"bold"}},
   {"data":{"values":[{}]},"mark":{"type":"rule","color":"#8c8c8c"},"encoding":{"x":{"datum":0},"x2":{"datum":13},"y":{"datum":1.45}}}
  ]},
 {"width":200,"height":192.3,"data":{"name":"fD"},
  "encoding":{"y":{"field":"line","type":"quantitative","scale":{"domain":[-7.16364,10.31818],"reverse":true,"nice":false,"zero":false},"axis":null}},
  "layer":[
   {"data":{"values":[{"line":0,"text":"Mean difference"},{"line":1,"text":"IV, random, 95% CI"}]},"mark":{"type":"text","baseline":"middle","dy":-3},"encoding":{"x":{"datum":0,"type":"quantitative","scale":{"domain":[-5,5],"nice":false,"zero":false},"axis":{"values":[-4,-2,0,2,4],"title":"Favours [good MH]\u00a0\u00a0\u00a0Favours [poor MH]"}},"text":{"field":"text","type":"nominal"}}},
   {"data":{"values":[{}]},"mark":{"type":"rule","color":"#8c8c8c"},"encoding":{"y":{"datum":1.45}}},
   {"data":{"values":[{}]},"mark":{"type":"rule","color":"#8c8c8c","strokeWidth":1.2},"encoding":{"x":{"datum":0,"type":"quantitative","scale":{"domain":[-5,5],"nice":false,"zero":false},"axis":{"values":[-4,-2,0,2,4],"title":"Favours [good MH]\u00a0\u00a0\u00a0Favours [poor MH]"}},"y":{"datum":1.45},"y2":{"datum":10.31818}}},
   {"transform":[{"filter":"datum.kind == 's'"}],"mark":{"type":"rule","color":"#222"},"encoding":{"x":{"field":"lo","type":"quantitative","scale":{"domain":[-5,5],"nice":false,"zero":false},"axis":{"values":[-4,-2,0,2,4],"title":"Favours [good MH]\u00a0\u00a0\u00a0Favours [poor MH]"}},"x2":{"field":"hi"}}},
   {"transform":[{"filter":"datum.kind == 's'"}],"mark":{"type":"point","shape":"square","filled":true,"opacity":1,"color":"#14bb14"},"encoding":{"x":{"field":"md","type":"quantitative","scale":{"domain":[-5,5],"nice":false,"zero":false},"axis":{"values":[-4,-2,0,2,4],"title":"Favours [good MH]\u00a0\u00a0\u00a0Favours [poor MH]"}},"size":{"field":"weight","type":"quantitative","scale":{"domain":[0,100],"range":[0,70]},"legend":null}}},
   {"transform":[{"filter":"datum.kind == 'd'"},{"fold":["lo","md","hi"],"as":["key","xv"]}],"mark":{"type":"trail","color":"#000"},"encoding":{"x":{"field":"xv","type":"quantitative","scale":{"domain":[-5,5],"nice":false,"zero":false},"axis":{"values":[-4,-2,0,2,4],"title":"Favours [good MH]\u00a0\u00a0\u00a0Favours [poor MH]"}},"order":{"field":"xv","type":"quantitative"},"detail":{"field":"line","type":"nominal"},"size":{"condition":{"test":"datum.key == 'md'","value":9},"value":0}}}
  ]},
 {"width":417,"height":205.8,"data":{"name":"tE"},
  "encoding":{
   "x":{"field":"col","type":"quantitative","scale":{"domain":[0,1,2,3,4,5,6,7,8,9,10,11,12,13],"range":[17,137,180,227,270,325,412,340,380,157,248,374,17,417],"nice":false,"zero":false},"axis":null},
   "y":{"field":"line","type":"quantitative","scale":{"domain":[-6.77273,11.93636],"reverse":true,"nice":false,"zero":false},"axis":null},
   "text":{"field":"text","type":"nominal"}},
  "layer":[
   {"transform":[{"filter":"datum.col == 0 && datum.g == 'r'"}],"mark":{"type":"text","align":"left","baseline":"middle"}},
   {"transform":[{"filter":"datum.col == 0 && datum.g == 'h'"}],"mark":{"type":"text","align":"left","baseline":"middle","dy":-3}},
   {"transform":[{"filter":"datum.col >= 1 && datum.col <= 4 && datum.g == 'r'"}],"mark":{"type":"text","align":"center","baseline":"middle"}},
   {"transform":[{"filter":"datum.col >= 1 && datum.col <= 4 && datum.g == 'h'"}],"mark":{"type":"text","align":"center","baseline":"middle","dy":-3}},
   {"transform":[{"filter":"datum.col >= 5 && datum.col <= 6 && datum.g == 'r'"}],"mark":{"type":"text","align":"right","baseline":"middle"}},
   {"transform":[{"filter":"datum.col >= 5 && datum.col <= 6 && datum.g == 'h'"}],"mark":{"type":"text","align":"right","baseline":"middle","dy":-3}},
   {"transform":[{"filter":"datum.col >= 9 && datum.col <= 11"}],"mark":{"type":"text","align":"center","baseline":"middle","dy":-3}},
   {"transform":[{"filter":"datum.g == 'p'"}],"mark":{"type":"text","align":"left","baseline":"middle","dy":-2,"fontSize":12,"fontWeight":"bold"}},
   {"data":{"values":[{}]},"mark":{"type":"rule","color":"#8c8c8c"},"encoding":{"x":{"datum":0},"x2":{"datum":13},"y":{"datum":1.45}}}
  ]},
 {"width":200,"height":205.8,"data":{"name":"fE"},
  "encoding":{"y":{"field":"line","type":"quantitative","scale":{"domain":[-6.77273,11.93636],"reverse":true,"nice":false,"zero":false},"axis":null}},
  "layer":[
   {"data":{"values":[{"line":0,"text":"Odds ratio"},{"line":1,"text":"M−H, random, 95% CI"}]},"mark":{"type":"text","baseline":"middle","dy":-3},"encoding":{"x":{"datum":1,"type":"quantitative","scale":{"type":"log","domain":[0.01,100],"nice":false},"axis":{"values":[0.01,0.1,1,10,100],"labelExpr":"datum.value == 1 ? '0' : format(datum.value, '~g')","title":"Favours [good MH]\u00a0\u00a0\u00a0Favours [poor MH]"}},"text":{"field":"text","type":"nominal"}}},
   {"data":{"values":[{}]},"mark":{"type":"rule","color":"#8c8c8c"},"encoding":{"y":{"datum":1.45}}},
   {"data":{"values":[{}]},"mark":{"type":"rule","color":"#8c8c8c","strokeWidth":1.2},"encoding":{"x":{"datum":1,"type":"quantitative","scale":{"type":"log","domain":[0.01,100],"nice":false},"axis":{"values":[0.01,0.1,1,10,100],"labelExpr":"datum.value == 1 ? '0' : format(datum.value, '~g')","title":"Favours [good MH]\u00a0\u00a0\u00a0Favours [poor MH]"}},"y":{"datum":1.45},"y2":{"datum":11.93636}}},
   {"transform":[{"filter":"datum.kind == 's'"}],"mark":{"type":"rule","color":"#222"},"encoding":{"x":{"field":"lo","type":"quantitative","scale":{"type":"log","domain":[0.01,100],"nice":false},"axis":{"values":[0.01,0.1,1,10,100],"labelExpr":"datum.value == 1 ? '0' : format(datum.value, '~g')","title":"Favours [good MH]\u00a0\u00a0\u00a0Favours [poor MH]"}},"x2":{"field":"hi"}}},
   {"transform":[{"filter":"datum.kind == 's'"}],"mark":{"type":"point","shape":"square","filled":true,"opacity":1,"color":"#0000c8"},"encoding":{"x":{"field":"md","type":"quantitative","scale":{"type":"log","domain":[0.01,100],"nice":false},"axis":{"values":[0.01,0.1,1,10,100],"labelExpr":"datum.value == 1 ? '0' : format(datum.value, '~g')","title":"Favours [good MH]\u00a0\u00a0\u00a0Favours [poor MH]"}},"size":{"field":"weight","type":"quantitative","scale":{"domain":[0,100],"range":[0,70]},"legend":null}}},
   {"transform":[{"filter":"datum.kind == 'd'"},{"fold":["lo","md","hi"],"as":["key","xv"]}],"mark":{"type":"trail","color":"#000"},"encoding":{"x":{"field":"xv","type":"quantitative","scale":{"type":"log","domain":[0.01,100],"nice":false},"axis":{"values":[0.01,0.1,1,10,100],"labelExpr":"datum.value == 1 ? '0' : format(datum.value, '~g')","title":"Favours [good MH]\u00a0\u00a0\u00a0Favours [poor MH]"}},"order":{"field":"xv","type":"quantitative"},"detail":{"field":"line","type":"nominal"},"size":{"condition":{"test":"datum.key == 'md'","value":9},"value":0}}}
  ]}
]
}
